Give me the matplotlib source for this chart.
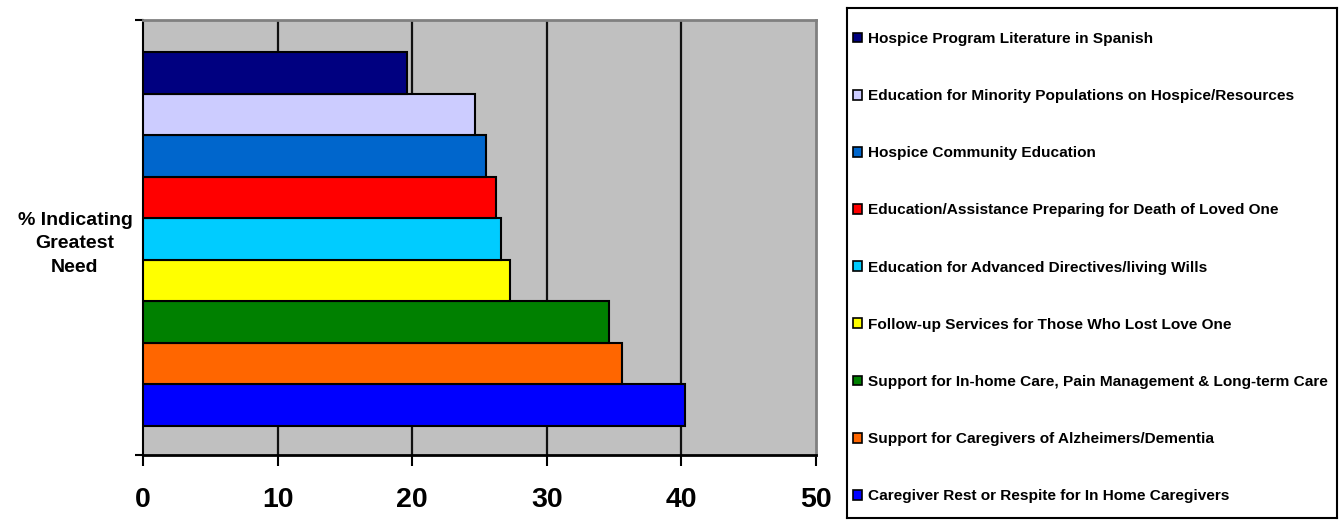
import matplotlib
matplotlib.use('Agg')
from matplotlib import pyplot as plt
from matplotlib.patches import Patch

# Data, bottom to top as drawn
labels = [
    'Caregiver Rest or Respite for In Home Caregivers',
    'Support for Caregivers of Alzheimers/Dementia',
    'Support for In-home Care, Pain Management & Long-term Care',
    'Follow-up Services for Those Who Lost Love One',
    'Education for Advanced Directives/living Wills',
    'Education/Assistance Preparing for Death of Loved One',
    'Hospice Community Education',
    'Education for Minority Populations on Hospice/Resources',
    'Hospice Program Literature in Spanish',
]
values = [40.3, 35.6, 34.6, 27.3, 26.6, 26.2, 25.5, 24.7, 19.6]
colors = ['#0000FF', '#FF6600', '#008000', '#FFFF00', '#00CCFF',
          '#FF0000', '#0066CC', '#CCCCFF', '#000080']
xticks = [0, 10, 20, 30, 40, 50]
ylabel = '% Indicating\nGreatest\nNeed'

plt.rcParams['font.family'] = ['Liberation Sans', 'DejaVu Sans']
plt.rcParams['font.weight'] = 'bold'

W, H = 1342, 521
fig = plt.figure(figsize=(W/100, H/100), dpi=100)

# Main plot area in pixel coordinates
x0, x1, y0, y1 = 143, 816, 20, 455
ax = fig.add_axes([x0/W, 1 - y1/H, (x1-x0)/W, (y1-y0)/H])
ax.set_facecolor('#C0C0C0')

ypos = list(range(len(values)))
ax.barh(ypos, values, height=1.0, color=colors, edgecolor='black', linewidth=1.5, zorder=3)

ylo, yhi = -1.2, len(values) - 1 + 1.27
ax.set_xlim(0, 50)
ax.set_ylim(ylo, yhi)
ax.set_xticks(xticks)
ax.set_xticklabels([str(t) for t in xticks], fontsize=20.5, fontweight='bold')
ax.tick_params(axis='x', length=8, width=1.5, pad=15, color='black')
ax.set_yticks([ylo, yhi])
ax.set_yticklabels([])
ax.tick_params(axis='y', length=6, width=1.5, color='black')
for t in xticks[1:-1]:
    ax.axvline(t, color='#111111', linewidth=1.6, zorder=1)

ax.spines['left'].set_color('black')
ax.spines['left'].set_linewidth(1.5)
ax.spines['bottom'].set_color('black')
ax.spines['bottom'].set_linewidth(2)
ax.spines['top'].set_color('#808080')
ax.spines['top'].set_linewidth(2)
ax.spines['right'].set_color('#808080')
ax.spines['right'].set_linewidth(2)

fig.text(75/W, 1 - 244/H, ylabel, ha='center', va='center', fontsize=14,
         fontweight='bold', linespacing=1.5)

# Legend box
lx0, lx1, ly0, ly1 = 847, 1337, 8, 518
lax = fig.add_axes([lx0/W, 1 - ly1/H, (lx1-lx0)/W, (ly1-ly0)/H])
lax.set_xticks([])
lax.set_yticks([])
for s in lax.spines.values():
    s.set_color('black')
    s.set_linewidth(1.5)

handles = [Patch(facecolor=c, edgecolor='black', linewidth=1.2) for c in colors[::-1]]
lax.legend(handles, labels[::-1], loc='center left', bbox_to_anchor=(0.0, 0.491),
           frameon=False, labelspacing=2.8, handlelength=0.6,
           handleheight=0.6, handletextpad=0.33, borderaxespad=0.0, borderpad=0.4,
           prop={'weight': 'bold', 'size': 11.1})

fig.savefig('out.png', dpi=100)
